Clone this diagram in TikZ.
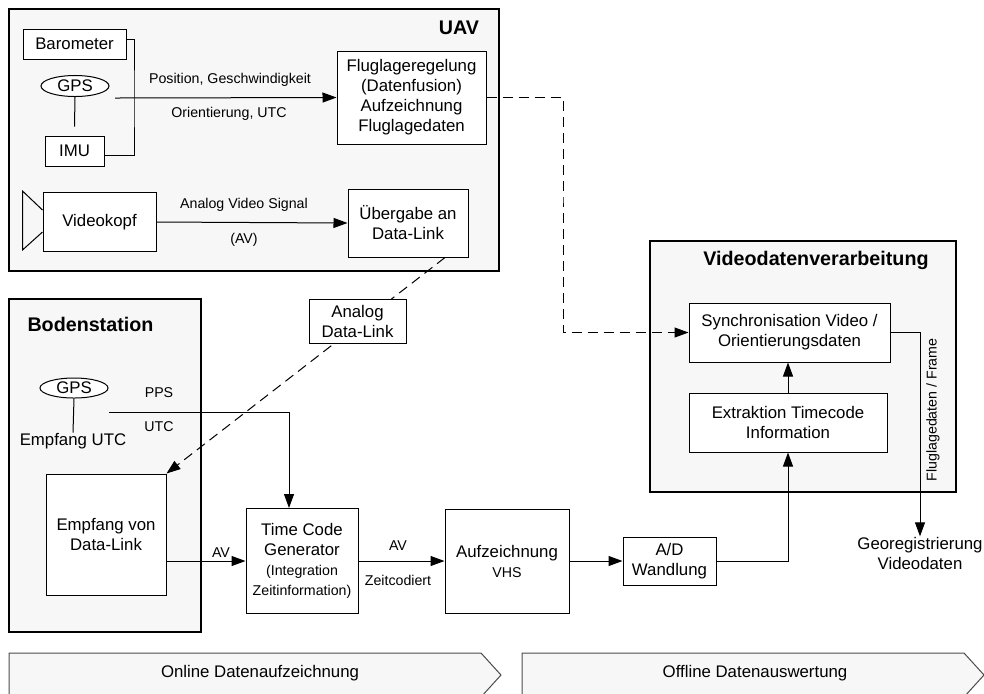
\documentclass[tikz,border=0pt]{standalone}
\usepackage{fontspec}
\setmainfont{Liberation Sans}
\usepackage{tikz}
\usetikzlibrary{arrows.meta,calc,shapes.geometric}
\definecolor{grpfill}{HTML}{F7F7F7}
\newcommand{\mainsize}{\fontsize{8.4}{10}\selectfont}
\newcommand{\smallsize}{\fontsize{7.1}{8.5}\selectfont}
\newcommand{\titlesize}{\fontsize{9.85}{12}\selectfont\bfseries}

\begin{document}
\begin{tikzpicture}[x=0.5pt, y=-0.5pt, line width=0.5pt,
    box/.style={draw, fill=white, align=center, inner sep=0pt, font=\mainsize},
    group/.style={draw, fill=grpfill, line width=0.75pt, inner sep=0pt},
    title/.style={font=\titlesize, inner sep=0pt},
    lbl/.style={font=\smallsize, inner sep=0pt},
    txt/.style={font=\mainsize, inner sep=0pt, align=center},
    arr/.style={-{Triangle[length=7pt,width=5pt]}},
    link/.style={arr, dash pattern=on 5pt off 3pt}]
          \useasboundingbox (0,0) rectangle (984,693);
          \clip (0,0) rectangle (984,693);

          \node[group, minimum width=245pt, minimum height=131pt] (uav) at (254,140) {};
          \node[group, minimum width=96pt, minimum height=166.5pt] (boden) at (105,465.5) {};
          \node[group, minimum width=153pt, minimum height=125.5pt] (vid) at (803,366.5) {};

          \node[title] (uavt) at (459,28) {UAV};
          \node[title, anchor=west] (bodent) at (27,324) {Bodenstation};
          \node[title] (vidt) at (816,260) {Videodatenverarbeitung};

          \node[box, minimum width=51.5pt, minimum height=15pt] (baro) at (74.5,44) {Barometer};
          \node[box, ellipse, minimum width=34pt, minimum height=10.5pt] (gps) at (75,86) {GPS};
          \node[box, minimum width=29.5pt, minimum height=15pt] (imu) at (74.5,151) {IMU};
          \node[box, minimum width=74.5pt, minimum height=46.5pt] (flug) at (411.5,97.5) {Fluglageregelung\\(Datenfusion)\\Aufzeichnung\\Fluglagedaten};
          \node[box, minimum width=56.5pt, minimum height=29.5pt] (vk) at (99.5,222) {Videokopf};
          \node[box, minimum width=60pt, minimum height=34pt] (ueb) at (408,223) {Übergabe an\\Data-Link};

          \node[lbl] (poslbl) at (230,80) {Position, Geschwindigkeit};
          \node[lbl] (orilbl) at (229,114) {Orientierung, UTC};
          \node[lbl] (avsig) at (244,205) {Analog Video Signal};
          \node[lbl] (avpar) at (244,240) {(AV)};

          \node[box, ellipse, minimum width=34pt, minimum height=10pt] (gpsb) at (74,388) {GPS};
          \node[txt] (utc) at (73,441) {Empfang UTC};
          \node[box, minimum width=60pt, minimum height=60.5pt] (empf) at (106,534.5) {Empfang von\\Data-Link};
          \node[lbl] (ppslbl) at (159,393) {PPS};
          \node[lbl] (utclbl) at (159,427) {UTC};

          \node[box, minimum width=100.5pt, minimum height=29.5pt] (sync) at (789.5,332.5) {Synchronisation Video /\\Orientierungsdaten};
          \node[box, minimum width=99pt, minimum height=29.5pt] (extr) at (788,422.5) {Extraktion Timecode\\Information};

          \node[box, minimum width=56pt, minimum height=52.5pt] (tcg) at (302,561) {Time Code\\Generator\\\smallsize(Integration\\\smallsize Zeitinformation)};
          \node[box, minimum width=62pt, minimum height=52pt] (aufz) at (507,561) {Aufzeichnung\\\smallsize VHS};
          \node[box, minimum width=46.5pt, minimum height=24pt] (ad) at (669.5,561) {A/D\\Wandlung};
          \node[txt] (geo) at (920,553) {Georegistrierung\\Videodaten};

          \node[lbl] (av1) at (221,553) {AV};
          \node[lbl] (av2) at (398,546) {AV};
          \node[lbl] (zc) at (398,580) {Zeitcodiert};
          \node[lbl, rotate=90] (frame) at (933,410) {Fluglagedaten / Frame};

          \coordinate (sens) at (115,98);
          \coordinate (bus) at (134,100);
          \coordinate (bend) at (563,200);
          \coordinate (pps) at (109,412);

          \draw ([yshift=2.5pt]baro.east) -| (bus) |- ([yshift=-2pt]imu.east);
          \draw (gps.south) -- ([yshift=4.5pt]imu.north);
          \draw[arr] (sens) -- (flug.west);
          \draw[arr] (vk.east) -- (ueb.west);
          \draw ($(vk.west)+(0,-12)$) -- ++(-20,-19) -- ++(0,59) -- ($(vk.west)+(0,10)$);

          \draw[link] (flug.east) -| (bend) |- (sync.west);
          \draw[link] ([xshift=18.5pt]ueb.south) -- (empf.north east);
          \node[box, minimum width=48.5pt, minimum height=22pt] (adl) at (357.5,321) {Analog\\Data-Link};

          \draw (gpsb.south) -- (utc.north);
          \draw[arr] (pps) -| ([xshift=-6.5pt]tcg.north);
          \draw[arr] ([yshift=-13.25pt]empf.east) -- (tcg.west);
          \draw[arr] (tcg.east) -- (aufz.west);
          \draw[arr] (aufz.east) -- (ad.west);
          \draw[arr] (ad.east) -| (extr.south);
          \draw[arr] (extr.north) -- (extr.north |- sync.south);
          \draw[arr] (sync.east) -| (geo.north);

          \draw[draw=black!70, fill=grpfill] (9,653) -- (481,653) -- (501,675) -- (481,697) -- (9,697) -- cycle;
          \draw[draw=black!70, fill=grpfill] (522,653) -- (964,653) -- (984,675) -- (964,697) -- (522,697) -- cycle;
          \node[txt] (online) at (260,673) {Online Datenaufzeichnung};
          \node[txt] (offline) at (755,673) {Offline Datenauswertung};
\end{tikzpicture}
\end{document}
